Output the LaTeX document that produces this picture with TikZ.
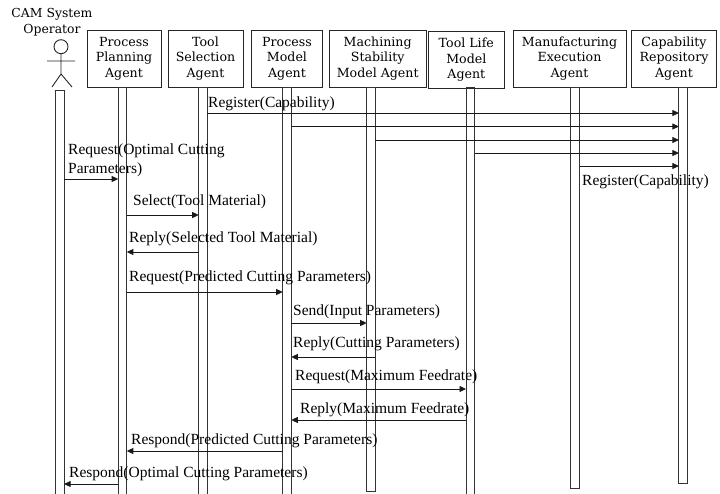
\documentclass[tikz,border=0pt]{standalone}
\usepackage{fontspec}
\setmainfont{Liberation Serif}
\newfontfamily\boxfont{DejaVu Serif}
\usetikzlibrary{arrows.meta}
\tikzset{
  agentbox/.style={draw=black!85,line width=.9pt,inner sep=0pt,outer sep=0pt,align=center,
    minimum height=57pt,font=\boxfont\fontsize{12.6}{15.5}\selectfont},
  lifebar/.style={draw=black!80,line width=.9pt,inner sep=0pt,outer sep=0pt,minimum width=8.6pt,anchor=north},
  msglabel/.style={inner sep=0pt,anchor=base west,align=left,font=\fontsize{15.5}{19}\selectfont},
  msgline/.style={line width=.8pt,black!90,-{Triangle[length=6.5pt,width=6pt]}}
}
\begin{document}
\begin{tikzpicture}[x=1pt,y=-1pt]
  \useasboundingbox (0,0) rectangle (720,493);
  % agents
  \node[agentbox,minimum width=74pt] (pp) at (124,58.5) {Process\\Planning\\Agent};
  \node[agentbox,minimum width=75pt] (ts) at (205.5,58.5) {Tool\\Selection\\Agent};
  \node[agentbox,minimum width=71pt] (pm) at (287,58.5) {Process\\Model\\Agent};
  \node[agentbox,minimum width=97pt] (ms) at (377.7,58.5) {Machining\\Stability\\Model Agent};
  \node[agentbox,minimum width=76.5pt] (tl) at (466.3,60) {Tool Life\\Model\\Agent};
  \node[agentbox,minimum width=113pt] (me) at (569.5,58.5) {Manufacturing\\Execution\\Agent};
  \node[agentbox,minimum width=85.5pt] (cr) at (674,58.5) {Capability\\Repository\\Agent};
  % operator
  \node[inner sep=0pt,align=center,anchor=north,font=\boxfont\fontsize{12.4}{15.5}\selectfont] (opname) at (52,8.5) {CAM System\\Operator};
  \node[circle,draw=black!85,line width=.9pt,minimum size=14pt,inner sep=0pt,outer sep=0pt] (head) at (61,46.7) {};
  \coordinate (hip) at (61,74);
  \coordinate (armL) at (47,61);
  \coordinate (armR) at (75,61);
  \coordinate (legL) at (52,87);
  \coordinate (legR) at (72,87);
  \draw[black!85,line width=.9pt] (head) -- (hip) (armL) -- (armR) (legL) -- (hip) -- (legR);
  % lifelines
  \foreach \name/\xx/\ya/\len in {opbar/59.8/90/406,ppbar/122.5/87/409,tsbar/203/87/409,pmbar/287/87/409,
    msbar/371/87/404,tlbar/470.3/87/409,mebar/575.2/87/401,crbar/683.2/87/396}
    \node[lifebar,minimum height=\len pt] (\name) at (\xx,\ya) {};
  % messages
  \foreach \from/\to/\yy in {tsbar.east/crbar.west/113,pmbar.east/crbar.west/126.5,msbar.east/crbar.west/140,
    tlbar.east/crbar.west/153,mebar.east/crbar.west/166,opbar.east/ppbar.west/179,ppbar.east/tsbar.west/215,
    tsbar.west/ppbar.east/252,ppbar.east/pmbar.west/292,pmbar.east/msbar.west/323,msbar.east/pmbar.east/357,
    pmbar.east/tlbar.west/389,tlbar.west/pmbar.east/420,pmbar.west/ppbar.east/451,ppbar.west/opbar.east/484}
    \draw[msgline] (\from |- 0,\yy) -- (\to |- 0,\yy);
  % labels
  \node[msglabel] (l1) at (208,107.5) {Register(Capability)};
  \node[msglabel] (l2) at (68,173) {Request(Optimal Cutting\\Parameters)};
  \node[msglabel] (l3) at (582,185.5) {Register(Capability)};
  \node[msglabel] (l4) at (133,205) {Select(Tool Material)};
  \node[msglabel] (l5) at (129,242) {Reply(Selected Tool Material)};
  \node[msglabel] (l6) at (129,281) {Request(Predicted Cutting Parameters)};
  \node[msglabel] (l7) at (293,315) {Send(Input Parameters)};
  \node[msglabel] (l8) at (293,347) {Reply(Cutting Parameters)};
  \node[msglabel] (l9) at (295,380) {Request(Maximum Feedrate)};
  \node[msglabel] (l10) at (300,413) {Reply(Maximum Feedrate)};
  \node[msglabel] (l11) at (131,444) {Respond(Predicted Cutting Parameters)};
  \node[msglabel] (l12) at (69,477) {Respond(Optimal Cutting Parameters)};
\end{tikzpicture}
\end{document}
